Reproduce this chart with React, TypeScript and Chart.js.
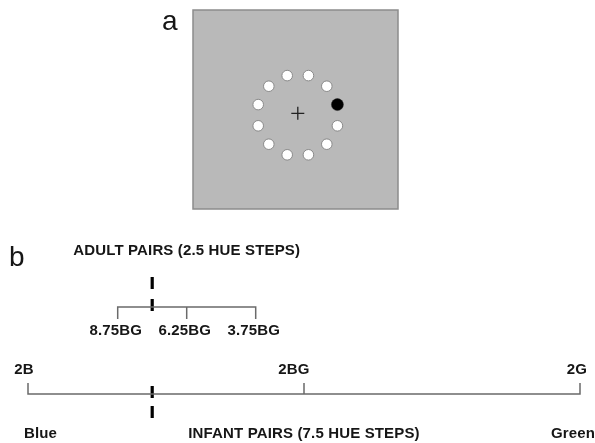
import React, { useEffect, useRef } from 'react';
import { Chart, registerables } from 'chart.js';

Chart.register(...registerables);

// ---------- data ----------
// Panel b: positions measured in Munsell hue steps from 2B towards 2G
const INFANT_TICK_LABELS = ['2B', '2BG', '2G'];
const INFANT_TICK_STEPS = [0, 10, 20];
const ADULT_TICK_LABELS = ['8.75BG', '6.25BG', '3.75BG'];
const ADULT_TICK_STEPS = [3.25, 5.75, 8.25];
const STANDARD_STEPS = [4.5]; // 7.5BG standard marked by the dashed bar
const END_LABELS = ['Blue', 'Green'];
const ADULT_TITLE = 'ADULT PAIRS (2.5 HUE STEPS)';
const INFANT_TITLE = 'INFANT PAIRS (7.5 HUE STEPS)';
const PANEL_LABELS = ['a', 'b'];

// Panel a: 12 stimulus positions around fixation (degrees), target index
const RING_ANGLES = [15, 45, 75, 105, 135, 165, 195, 225, 255, 285, 315, 345];
const TARGET_INDEX = 0;

// ---------- layout ----------
const W = 595;
const H = 443;
const HUE_X0 = 28;
const HUE_X1 = 580;
const HUE_SPAN = 20;
const PX_PER_STEP = (HUE_X1 - HUE_X0) / HUE_SPAN;

const RING_CX = 297.8;
const RING_CY = 115.2;
const RING_R = 41;

const BOX = { l: 193, t: 10, r: 398, b: 209 };

const ADULT_TITLE_Y = 251;
const ADULT_LINE_Y = 307;
const ADULT_TICK_END = 319;
const ADULT_LABEL_Y = 331;
const ADULT_MARK = [[277, 289], [299, 311]];
const INFANT_LABEL_Y = 370;
const INFANT_LINE_Y = 394;
const INFANT_TICK_END = 383;
const INFANT_MARK = [[386, 398], [406, 418]];
const INFANT_LABEL_DX = [-4, -10, -3];
const END_Y = 434;

const LINE_COLOR = '#6a6a6a';
const TEXT_COLOR = '#161616';
const FONT = '"Liberation Sans", Arial, sans-serif';

type P = { x: number; y: number | null };

function lineDs(data: P[], xAxisID: string, color: string, width: number) {
  return {
    type: 'scatter' as const,
    data,
    showLine: true,
    spanGaps: false,
    borderColor: color,
    borderWidth: width,
    borderCapStyle: 'butt',
    pointRadius: 0,
    pointHoverRadius: 0,
    xAxisID,
    yAxisID: 'yp',
    clip: false as any,
  };
}

function bracketPoints(steps: number[], lineY: number, tickEnd: number): P[] {
  const pts: P[] = [];
  const first = steps[0];
  const last = steps[steps.length - 1];
  pts.push({ x: first, y: tickEnd }, { x: first, y: lineY }, { x: last, y: lineY }, { x: last, y: tickEnd });
  steps.slice(1, -1).forEach((s) => {
    pts.push({ x: s, y: null }, { x: s, y: lineY }, { x: s, y: tickEnd });
  });
  return pts;
}

function markerPoints(steps: number[], segs: number[][]): P[] {
  const pts: P[] = [];
  steps.forEach((s) => {
    segs.forEach(([a, b]) => {
      pts.push({ x: s, y: null }, { x: s, y: a }, { x: s, y: b });
    });
  });
  return pts;
}

const boxPlugin = {
  id: 'grayBox',
  beforeDatasetsDraw(chart: any) {
    const { ctx } = chart;
    const xs = chart.scales.xp;
    const ys = chart.scales.yp;
    const l = xs.getPixelForValue(BOX.l);
    const r = xs.getPixelForValue(BOX.r);
    const t = ys.getPixelForValue(BOX.t);
    const b = ys.getPixelForValue(BOX.b);
    ctx.save();
    ctx.fillStyle = '#b9b9b9';
    ctx.fillRect(l, t, r - l, b - t);
    ctx.strokeStyle = '#8c8c8c';
    ctx.lineWidth = 1.5;
    ctx.strokeRect(l, t, r - l, b - t);
    ctx.restore();
  },
};

const textPlugin = {
  id: 'diagramText',
  afterDatasetsDraw(chart: any) {
    const { ctx } = chart;
    const xh = chart.scales.xh;
    const xp = chart.scales.xp;
    const yp = chart.scales.yp;
    const put = (
      s: string,
      x: number,
      y: number,
      align: CanvasTextAlign,
      font: string,
      spacing: string,
      baseline: CanvasTextBaseline = 'middle'
    ) => {
      ctx.save();
      ctx.font = font;
      (ctx as any).letterSpacing = spacing;
      ctx.fillStyle = TEXT_COLOR;
      ctx.textAlign = align;
      ctx.textBaseline = baseline;
      ctx.fillText(s, x, y);
      ctx.restore();
    };
    const bold = `bold 15px ${FONT}`;
    const sp = '0.15px';

    // panel letters
    put(PANEL_LABELS[0], xp.getPixelForValue(162), yp.getPixelForValue(30), 'left', `28px ${FONT}`, '0px', 'alphabetic');
    put(PANEL_LABELS[1], xp.getPixelForValue(9), yp.getPixelForValue(266), 'left', `28px ${FONT}`, '0px', 'alphabetic');

    // adult
    const midAdult = ADULT_TICK_STEPS[1];
    put(ADULT_TITLE, xh.getPixelForValue(midAdult), yp.getPixelForValue(ADULT_TITLE_Y), 'center', bold, sp);
    ADULT_TICK_LABELS.forEach((lab, i) => {
      put(lab, xh.getPixelForValue(ADULT_TICK_STEPS[i]) - 2, yp.getPixelForValue(ADULT_LABEL_Y), 'center', bold, sp);
    });

    // infant
    INFANT_TICK_LABELS.forEach((lab, i) => {
      put(lab, xh.getPixelForValue(INFANT_TICK_STEPS[i]) + INFANT_LABEL_DX[i], yp.getPixelForValue(INFANT_LABEL_Y), 'center', bold, sp);
    });
    put(INFANT_TITLE, xh.getPixelForValue(INFANT_TICK_STEPS[1]), yp.getPixelForValue(END_Y), 'center', bold, sp);
    put(END_LABELS[0], xh.getPixelForValue(INFANT_TICK_STEPS[0]) - 4, yp.getPixelForValue(END_Y), 'left', bold, sp);
    put(END_LABELS[1], xh.getPixelForValue(INFANT_TICK_STEPS[2]) + 15, yp.getPixelForValue(END_Y), 'right', bold, sp);
  },
};

export default function App() {
  const ref = useRef<HTMLCanvasElement | null>(null);

  useEffect(() => {
    if (!ref.current) return;
    const rad = (d: number) => (d * Math.PI) / 180;
    const ring = RING_ANGLES.map((a) => ({ x: Math.cos(rad(a)), y: Math.sin(rad(a)) }));
    const whites = ring.filter((_, i) => i !== TARGET_INDEX);
    const target = [ring[TARGET_INDEX]];

    const chart = new Chart(ref.current, {
      type: 'scatter',
      data: {
        datasets: [
          {
            type: 'scatter',
            data: whites,
            pointRadius: 5.3,
            pointBackgroundColor: '#ffffff',
            pointBorderColor: '#8a8a8a',
            pointBorderWidth: 1,
            xAxisID: 'xr',
            yAxisID: 'yr',
            clip: false as any,
          },
          {
            type: 'scatter',
            data: target,
            pointRadius: 6,
            pointBackgroundColor: '#000000',
            pointBorderColor: '#222222',
            pointBorderWidth: 0.5,
            xAxisID: 'xr',
            yAxisID: 'yr',
            clip: false as any,
          },
          {
            type: 'scatter',
            data: [{ x: 0, y: 0.045 }],
            pointStyle: 'cross',
            pointRadius: 6.5,
            pointBorderColor: '#222222',
            pointBorderWidth: 1.3,
            xAxisID: 'xr',
            yAxisID: 'yr',
            clip: false as any,
          },
          lineDs(bracketPoints(ADULT_TICK_STEPS, ADULT_LINE_Y, ADULT_TICK_END), 'xh', LINE_COLOR, 1.5),
          lineDs(bracketPoints(INFANT_TICK_STEPS, INFANT_LINE_Y, INFANT_TICK_END), 'xh', LINE_COLOR, 1.5),
          lineDs(markerPoints(STANDARD_STEPS, ADULT_MARK), 'xh', '#000000', 3.2),
          lineDs(markerPoints(STANDARD_STEPS, INFANT_MARK), 'xh', '#000000', 3.2),
        ] as any,
      },
      options: {
        animation: false,
        responsive: false,
        devicePixelRatio: 1,
        layout: { padding: 0, autoPadding: false },
        events: [],
        plugins: { legend: { display: false }, tooltip: { enabled: false } },
        scales: {
          xh: {
            type: 'linear',
            axis: 'x',
            display: false,
            min: -HUE_X0 / PX_PER_STEP,
            max: (W - HUE_X0) / PX_PER_STEP,
          },
          xp: { type: 'linear', axis: 'x', display: false, min: 0, max: W },
          xr: {
            type: 'linear',
            axis: 'x',
            display: false,
            min: -RING_CX / RING_R,
            max: (W - RING_CX) / RING_R,
          },
          yp: { type: 'linear', axis: 'y', display: false, min: 0, max: H, reverse: true },
          yr: {
            type: 'linear',
            axis: 'y',
            display: false,
            min: -(H - RING_CY) / RING_R,
            max: RING_CY / RING_R,
          },
        } as any,
      },
      plugins: [boxPlugin, textPlugin],
    });
    return () => chart.destroy();
  }, []);

  return (
    <div style={{ position: 'absolute', left: 0, top: 0, width: W, height: H, background: '#ffffff' }}>
      <canvas ref={ref} width={W} height={H} style={{ display: 'block', width: W, height: H }} />
    </div>
  );
}
